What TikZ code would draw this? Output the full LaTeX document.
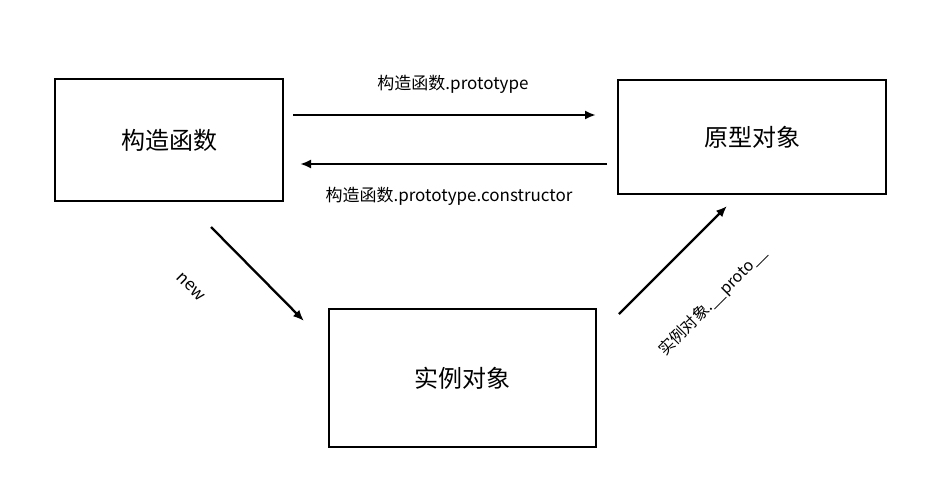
\documentclass[tikz,border=0pt]{standalone}
\usepackage{fontspec}
\setmainfont{Noto Sans CJK SC}
\usetikzlibrary{arrows.meta}
\begin{document}
\begin{tikzpicture}[x=1pt,y=-1pt,
  box/.style={draw,line width=1.8pt,inner sep=0pt,font=\fontsize{24}{28}\selectfont},
  conn/.style={line width=2.3pt,-{Latex[length=11pt,width=9pt]}},
  lbl/.style={font=\fontsize{17}{20}\selectfont,inner sep=0pt}]
\useasboundingbox (0,0) rectangle (938,488);
\node[box,minimum width=228pt,minimum height=122pt] (ctor) at (169,140) {构造函数};
\node[box,minimum width=268pt,minimum height=114pt] (proto) at (752,137) {原型对象};
\node[box,minimum width=267pt,minimum height=138pt] (inst) at (462.5,378) {实例对象};
\coordinate (a1s) at (293,115); \coordinate (a1e) at (596,115);
\coordinate (a2s) at (607,164); \coordinate (a2e) at (300,164);
\coordinate (a3s) at (211,227); \coordinate (a3e) at (304,321);
\coordinate (a4s) at (619,314); \coordinate (a4e) at (727,206);
\draw[conn] (a1s) -- (a1e);
\draw[conn] (a2s) -- (a2e);
\draw[conn] (a3s) -- (a3e);
\draw[conn] (a4s) -- (a4e);
\node[lbl] (l1) at (453,84) {构造函数.prototype};
\node[lbl] (l2) at (449,196) {构造函数.prototype.constructor};
\node[lbl,rotate=-45] (l3) at (191,287) {new};
\node[lbl,rotate=45,font=\fontsize{16}{19}\selectfont] (l4) at (713,302) {实例对象.\_\_proto\_\_};
\end{tikzpicture}
\end{document}
